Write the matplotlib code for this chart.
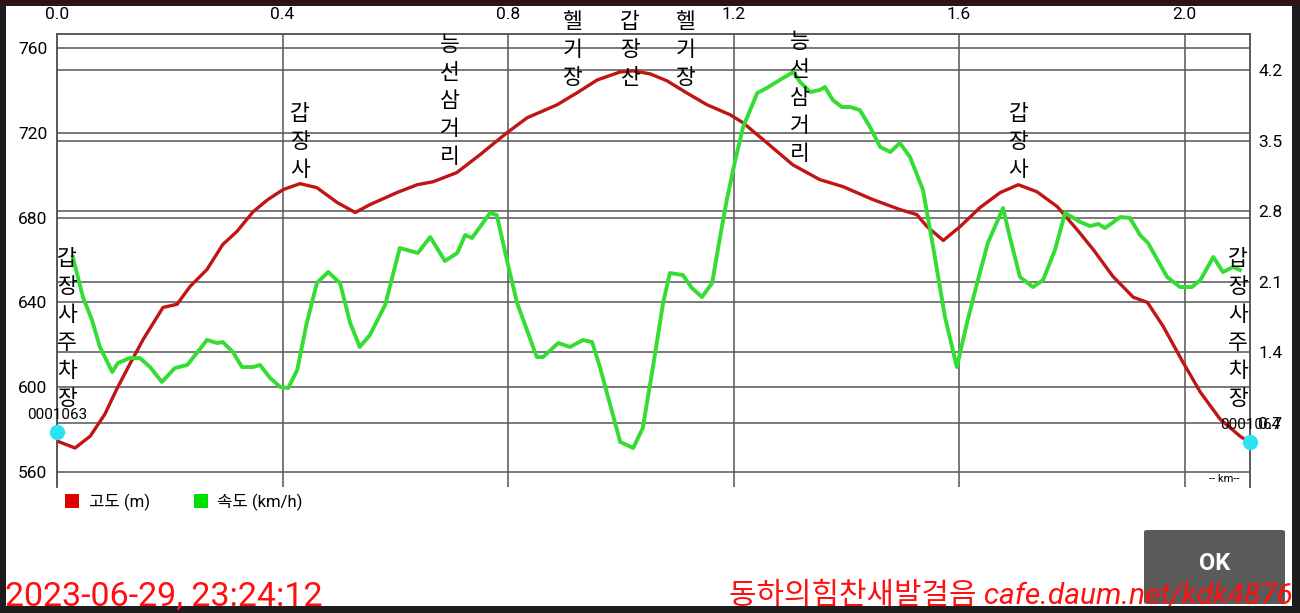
import matplotlib
matplotlib.use('Agg')
import matplotlib.pyplot as plt
from matplotlib.patches import Rectangle, FancyBboxPatch

plt.rcParams['font.family'] = ['Roboto', 'Noto Sans CJK KR', 'DejaVu Sans']

# elevation profile (km, m)
dist_elev = [0.000, 0.032, 0.059, 0.085, 0.106, 0.129, 0.153, 0.188, 0.213, 0.236,
             0.266, 0.294, 0.319, 0.348, 0.374, 0.401, 0.431, 0.461, 0.497, 0.529,
             0.555, 0.603, 0.639, 0.667, 0.709, 0.750, 0.798, 0.834, 0.887, 0.922,
             0.958, 0.999, 1.022, 1.052, 1.082, 1.117, 1.153, 1.194, 1.217, 1.259,
             1.305, 1.353, 1.394, 1.447, 1.495, 1.525, 1.543, 1.572, 1.602, 1.637,
             1.673, 1.705, 1.738, 1.774, 1.809, 1.838, 1.873, 1.909, 1.934, 1.962,
             1.997, 2.028, 2.063, 2.100, 2.116]
elev = [574.6, 571.3, 576.9, 587.3, 599.1, 610.8, 622.6, 637.6, 639.1, 647.5,
        655.5, 667.3, 673.4, 682.8, 688.5, 693.2, 696.0, 694.1, 687.1, 682.4,
        686.1, 691.8, 695.5, 696.9, 701.2, 709.6, 720.0, 727.1, 733.2, 738.8,
        744.9, 748.7, 749.2, 747.8, 744.5, 738.8, 733.2, 728.5, 724.7, 715.3,
        704.9, 697.9, 694.6, 688.5, 683.8, 681.4, 675.8, 669.2, 675.8, 684.7,
        691.8, 695.5, 692.2, 685.2, 674.4, 664.9, 652.2, 642.4, 640.0, 628.7,
        611.8, 597.6, 584.9, 576.5, 574.1]

# speed profile (km, km/h)
dist_speed = [0.028, 0.046, 0.062, 0.076, 0.098, 0.108, 0.129, 0.147, 0.165, 0.186,
              0.209, 0.231, 0.248, 0.266, 0.284, 0.294, 0.312, 0.328, 0.348, 0.360,
              0.378, 0.396, 0.410, 0.426, 0.443, 0.461, 0.481, 0.502, 0.520, 0.537,
              0.555, 0.582, 0.608, 0.640, 0.662, 0.688, 0.710, 0.724, 0.736, 0.768,
              0.780, 0.798, 0.816, 0.851, 0.862, 0.889, 0.910, 0.933, 0.949, 0.963,
              0.999, 1.022, 1.039, 1.057, 1.075, 1.087, 1.110, 1.126, 1.144, 1.162,
              1.176, 1.188, 1.203, 1.217, 1.242, 1.259, 1.282, 1.306, 1.318, 1.336,
              1.353, 1.362, 1.376, 1.392, 1.407, 1.424, 1.442, 1.460, 1.478, 1.495,
              1.513, 1.536, 1.554, 1.575, 1.596, 1.614, 1.632, 1.651, 1.678, 1.690,
              1.708, 1.731, 1.749, 1.770, 1.788, 1.815, 1.832, 1.847, 1.859, 1.886,
              1.903, 1.921, 1.935, 1.969, 1.992, 2.013, 2.028, 2.051, 2.068, 2.086,
              2.098]
speed = [2.346, 1.949, 1.721, 1.454, 1.206, 1.295, 1.344, 1.344, 1.255, 1.107,
         1.245, 1.275, 1.394, 1.523, 1.493, 1.503, 1.404, 1.255, 1.255, 1.275,
         1.146, 1.057, 1.047, 1.225, 1.692, 2.088, 2.197, 2.088, 1.692, 1.454,
         1.573, 1.870, 2.435, 2.386, 2.544, 2.306, 2.386, 2.564, 2.534, 2.782,
         2.762, 2.316, 1.890, 1.354, 1.354, 1.493, 1.454, 1.523, 1.503, 1.255,
         0.512, 0.452, 0.650, 1.255, 1.890, 2.187, 2.167, 2.039, 1.949, 2.088,
         2.544, 2.911, 3.308, 3.635, 3.972, 4.022, 4.101, 4.180, 4.081, 3.982,
         4.002, 4.031, 3.903, 3.833, 3.833, 3.803, 3.635, 3.437, 3.387, 3.476,
         3.337, 3.010, 2.445, 1.751, 1.255, 1.692, 2.088, 2.485, 2.832, 2.544,
         2.148, 2.048, 2.118, 2.415, 2.782, 2.693, 2.653, 2.673, 2.633, 2.742,
         2.733, 2.564, 2.485, 2.148, 2.048, 2.048, 2.118, 2.346, 2.197, 2.247,
         2.217]

x_ticks = [0.0, 0.4, 0.8, 1.2, 1.6, 2.0]
elev_ticks = [560, 600, 640, 680, 720, 760]
speed_ticks = [0.7, 1.4, 2.1, 2.8, 3.5, 4.2]

places = ['갑장사주차장', '갑장사', '능선삼거리', '헬기장', '갑장산', '헬기장',
          '능선삼거리', '갑장사', '갑장사주차장']
place_x = [0.0177, 0.431, 0.697, 0.914, 1.016, 1.114, 1.318, 1.705, 2.095]
place_y = [660.2, 728.5, 761.4, 772.2, 772.2, 772.2, 762.8, 728.5, 660.2]

wp_names = ['0001063', '0001064']
wp_x = [0.0, 2.116]
wp_y = [578.8, 574.1]

W, H = 1300, 613
RED = '#bf1515'
GREEN = '#33dd33'
GRID = '#555555'

fig = plt.figure(figsize=(W / 100, H / 100), dpi=100)

def fx(x):
    return x / W

def fy(y):
    return 1 - y / H

# screenshot frame
fig.patches.append(Rectangle((0, 0), 1, 1, transform=fig.transFigure,
                             facecolor='#1d1d1d', zorder=-20))
fig.patches.append(Rectangle((0, fy(3)), 1, 1 - fy(3), transform=fig.transFigure,
                             facecolor='#3a0d10', zorder=-19))
fig.patches.append(Rectangle((fx(6), fy(606)), fx(1292) - fx(6), fy(6) - fy(606),
                             transform=fig.transFigure, facecolor='white', zorder=-18))

ax = fig.add_axes([fx(57), fy(487), fx(1250) - fx(57), fy(34) - fy(487)])
ax.set_xlim(0, 2.116)
ax.set_ylim(552.9, 766.6)
ax2 = ax.twinx()

ax.set_xticks(x_ticks)
ax.set_xticklabels(['%.1f' % v for v in x_ticks])
ax.set_yticks(elev_ticks)
ax2.set_yticks(speed_ticks)
ax2.set_yticklabels(['%.1f' % v for v in speed_ticks])
ax.xaxis.tick_top()
ax.tick_params(axis='x', length=0, labelsize=12.5, pad=8.5, colors='black')
ax.tick_params(axis='y', length=0, labelsize=12.5, pad=7)
ax2.tick_params(axis='y', length=0, labelsize=12.5, pad=6)
ax.grid(True, color=GRID, lw=1.1)
ax2.grid(True, axis='y', color=GRID, lw=1.1)
for a in (ax, ax2):
    for s in a.spines.values():
        s.set_color(GRID)
        s.set_linewidth(1.1)
    a.spines['bottom'].set_visible(False)

ax2.plot(dist_elev, elev, color=RED, lw=2.4, transform=ax.transData, zorder=3)
ax2.plot(dist_speed, speed, color=GREEN, lw=2.8, zorder=4)
ax2.set_ylim(0.0655, 4.557)

ax2.plot(wp_x, wp_y, 'o', color='#2be3f0', ms=10, transform=ax.transData,
         clip_on=False, zorder=6)
for name, x, y in zip(wp_names, wp_x, wp_y):
    ax2.annotate(name, (x, y), xycoords=ax.transData, xytext=(0, 12),
                 textcoords='offset points', ha='center', va='center',
                 fontsize=11, zorder=7, annotation_clip=False)

for name, x, y in zip(places, place_x, place_y):
    for i, ch in enumerate(name):
        ax2.annotate(ch, (x, y), xycoords=ax.transData, xytext=(0, -i * 20.2),
                     textcoords='offset points', ha='center', va='center',
                     fontsize=15.5, annotation_clip=False, zorder=7)

fig.text(fx(1224), fy(479), '-- km--', fontsize=8, ha='center', va='center')

# legend
fig.patches.append(Rectangle((fx(65), fy(508)), fx(14), fy(0) - fy(14),
                             transform=fig.transFigure, facecolor='#e00000'))
fig.text(fx(89), fy(502), '고도 (m)', fontsize=12, va='center')
fig.patches.append(Rectangle((fx(194), fy(508)), fx(14), fy(0) - fy(14),
                             transform=fig.transFigure, facecolor='#00e000'))
fig.text(fx(217), fy(502), '속도 (km/h)', fontsize=12, va='center')

# OK button
fig.patches.append(FancyBboxPatch((fx(1144), fy(604)), fx(141), fy(530) - fy(604),
                                  boxstyle='round,pad=0,rounding_size=0.003',
                                  transform=fig.transFigure, facecolor='#5a5a5a',
                                  edgecolor='none'))
fig.text(fx(1215), fy(564), 'OK', fontsize=17, color='white', weight='bold',
         ha='center', va='center')

fig.text(fx(5), fy(597), '2023-06-29, 23:24:12', fontsize=24.5, color='#ff1010',
         weight='normal', ha='left', va='center')
fig.text(fx(1293), fy(596), '동하의힘찬새발걸음 cafe.daum.net/kdk4876', fontsize=21.5,
         color='#ff1010', style='italic', ha='right', va='center')

fig.savefig('out.png', dpi=100)
